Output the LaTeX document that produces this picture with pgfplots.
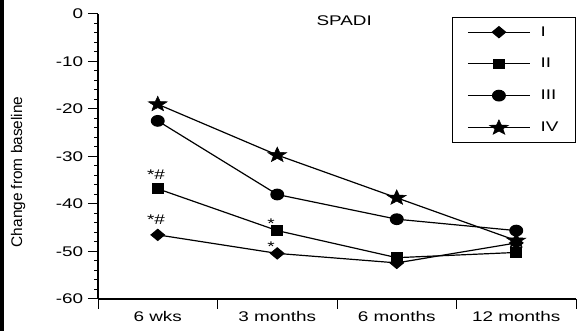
\documentclass[border=0pt]{standalone}
\usepackage{graphicx}
\usepackage{pgfplots}
\pgfplotsset{compat=1.18}
\usepackage{fontspec}
\setmainfont{Liberation Sans}
\newcommand\ff{\fontsize{14}{16.8}\selectfont}
\newcommand\wide[1]{\scalebox{1.35}[1]{#1}}
\pgfdeclareplotmark{fstar}{%
  \pgfpathmoveto{\pgfpointpolar{90}{\pgfplotmarksize}}%
  \pgfpathlineto{\pgfpointpolar{126}{0.42\pgfplotmarksize}}%
  \pgfpathlineto{\pgfpointpolar{162}{\pgfplotmarksize}}%
  \pgfpathlineto{\pgfpointpolar{198}{0.42\pgfplotmarksize}}%
  \pgfpathlineto{\pgfpointpolar{234}{\pgfplotmarksize}}%
  \pgfpathlineto{\pgfpointpolar{270}{0.42\pgfplotmarksize}}%
  \pgfpathlineto{\pgfpointpolar{306}{\pgfplotmarksize}}%
  \pgfpathlineto{\pgfpointpolar{342}{0.42\pgfplotmarksize}}%
  \pgfpathlineto{\pgfpointpolar{18}{\pgfplotmarksize}}%
  \pgfpathlineto{\pgfpointpolar{54}{0.42\pgfplotmarksize}}%
  \pgfpathclose\pgfusepathqfillstroke}
\begin{document}
\begin{tikzpicture}
\useasboundingbox (0,0) rectangle (577pt,331pt);
\fill[black] (0,0) rectangle (4pt,331pt);
\begin{axis}[
  at={(98pt,32pt)}, anchor=south west,
  scale only axis, width=478pt, height=285pt,
  xmin=0.5, xmax=4.5, ymin=-60, ymax=0,
  axis lines*=left,
  axis line style={line width=1.1pt},
  /pgf/number format/assume math mode=true,
  tick label style={font=\ff, xscale=1.35},
  ytick={-60,-50,...,0},
  minor y tick num=4,
  tick align=outside,
  major tick length=10pt, minor tick length=4pt,
  tick style={black, line width=1pt},
  xtick={0.5,1.5,2.5,3.5,4.5},
  xticklabels={},
  extra x ticks={1,2,3,4},
  extra x tick labels={6 wks,3 months,6 months,12 months},
  extra x tick style={major tick length=0pt, tick style={draw=none}},
  x tick label style={yshift=-9pt},
  ylabel={\fontsize{15.4}{17}\selectfont Change from baseline},
  ylabel style={at={(axis description cs:-0.167,0.446)}, anchor=center},
  legend entries={\wide{I},\wide{II},\wide{III},\wide{IV}},
  legend cell align=left,
  legend style={at={(rel axis cs:1,0.9895)}, anchor=north east, draw=black, line width=1.2pt,
    font=\ff, inner xsep=15pt, inner ysep=7pt, row sep=16.6pt, column sep=8pt},
  legend image code/.code={\draw[mark repeat=2,mark phase=2] plot coordinates {(0pt,0pt)(31pt,0pt)(62pt,0pt)};},
]
\addplot[black, line width=1.2pt, mark=diamond*, mark size=5.5pt, mark options={fill=black, xscale=1.6}] coordinates {(1,-46.5) (2,-50.4) (3,-52.4) (4,-48.2)};
\addplot[black, line width=1.2pt, mark=square*, mark size=4.7pt, mark options={fill=black, xscale=1.2}] coordinates {(1,-36.8) (2,-45.6) (3,-51.3) (4,-50.2)};
\addplot[black, line width=1.2pt, mark=*, mark size=5.3pt, mark options={fill=black, xscale=1.2}] coordinates {(1,-22.5) (2,-38.0) (3,-43.2) (4,-45.6)};
\addplot[black, line width=1.2pt, mark=fstar, mark size=8pt, mark options={fill=black, line width=0.5pt, xscale=1.25}] coordinates {(1,-19.0) (2,-29.7) (3,-38.7) (4,-47.7)};
\node[font=\ff, xscale=1.35] at (rel axis cs:0.515,0.975) {SPADI};
\node[font=\ff, xscale=1.35, anchor=base] at (axis cs:0.985,-34.9) {*\#};
\node[font=\ff, xscale=1.35, anchor=base] at (axis cs:0.985,-44.4) {*\#};
\node[font=\ff, xscale=1.35, anchor=base] at (axis cs:1.948,-45.2) {*};
\node[font=\ff, xscale=1.35, anchor=base] at (axis cs:1.948,-50.0) {*};
\end{axis}
\end{tikzpicture}
\end{document}
